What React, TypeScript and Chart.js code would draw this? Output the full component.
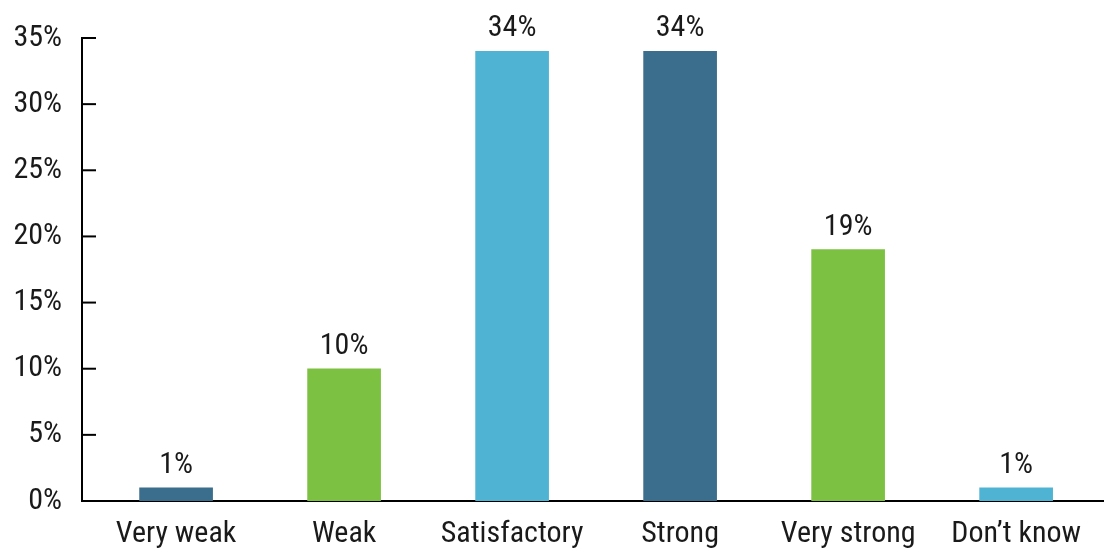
import React, { useEffect, useRef } from "react";
import { Chart, registerables } from "chart.js";

Chart.register(...registerables);

const categories = ["Very weak", "Weak", "Satisfactory", "Strong", "Very strong", "Don\u2019t know"];
const values = [1, 10, 34, 34, 19, 1];
const barColors = ["#3B6D8C", "#7DC142", "#4FB3D3", "#3B6D8C", "#7DC142", "#4FB3D3"];
const yTicks = [0, 5, 10, 15, 20, 25, 30, 35];

const FONT = "'Liberation Sans Narrow', 'Roboto Condensed', 'Arial Narrow', 'Liberation Sans', sans-serif";

const valueLabels = {
  id: "valueLabels",
  afterDatasetsDraw(chart: any) {
    const ctx = chart.ctx;
    const meta = chart.getDatasetMeta(0);
    ctx.save();
    ctx.font = `30px ${FONT}`;
    ctx.fillStyle = "#1a1a1a";
    ctx.textAlign = "center";
    ctx.textBaseline = "alphabetic";
    meta.data.forEach((el: any, i: number) => {
      ctx.fillText(values[i] + "%", el.x, el.y - 15);
    });
    ctx.restore();
  },
};

const innerTicks = {
  id: "innerTicks",
  afterDraw(chart: any) {
    const ctx = chart.ctx;
    const y = chart.scales.y;
    const left = chart.chartArea.left;
    ctx.save();
    ctx.strokeStyle = "#000";
    ctx.lineWidth = 2;
    yTicks.forEach((v) => {
      const py = y.getPixelForValue(v);
      ctx.beginPath();
      ctx.moveTo(left, py);
      ctx.lineTo(left + 14, py);
      ctx.stroke();
    });
    ctx.restore();
  },
};

export default function App() {
  const ref = useRef<HTMLCanvasElement | null>(null);
  useEffect(() => {
    document.body.style.margin = "0";
    if (!ref.current) return;
    const chart = new Chart(ref.current, {
      type: "bar",
      data: {
        datasets: [
          {
            data: values.map((v, i) => ({ x: i, y: v })),
            backgroundColor: barColors,
            barThickness: 73,
            borderWidth: 0,
          },
        ],
      },
      options: {
        animation: false,
        responsive: true,
        maintainAspectRatio: false,
        layout: { padding: { top: 38, right: 0, left: 0, bottom: 0 } },
        plugins: { legend: { display: false }, tooltip: { enabled: false } },
        scales: {
          x: {
            type: "linear",
            offset: false,
            min: -0.56,
            max: 5.523,
            afterFit: (s: any) => {
              s.height = 54;
              s.paddingLeft = 0;
              s.paddingRight = 0;
            },
            afterBuildTicks: (s: any) => {
              s.ticks = categories.map((_, i) => ({ value: i }));
            },
            ticks: {
              padding: 15,
              autoSkip: false,
              maxRotation: 0,
              font: { family: FONT, size: 30 },
              color: "#1a1a1a",
              callback: (v: any) => categories[v] ?? "",
            },
            grid: { display: false, drawTicks: false, offset: false },
            border: { display: true, color: "#000", width: 2 },
          },
          y: {
            min: 0,
            max: 35,
            afterFit: (s: any) => {
              s.width = 82;
            },
            afterBuildTicks: (s: any) => {
              s.ticks = yTicks.map((v) => ({ value: v }));
            },
            ticks: {
              padding: 20,
              font: { family: FONT, size: 30 },
              color: "#1a1a1a",
              callback: (v: any) => v + "%",
            },
            grid: { display: false, drawTicks: false },
            border: { display: true, color: "#000", width: 2 },
          },
        },
      },
      plugins: [valueLabels, innerTicks],
    });
    return () => chart.destroy();
  }, []);
  return (
    <div style={{ width: 1104, height: 555, position: "relative" }}>
      <canvas ref={ref} />
    </div>
  );
}
